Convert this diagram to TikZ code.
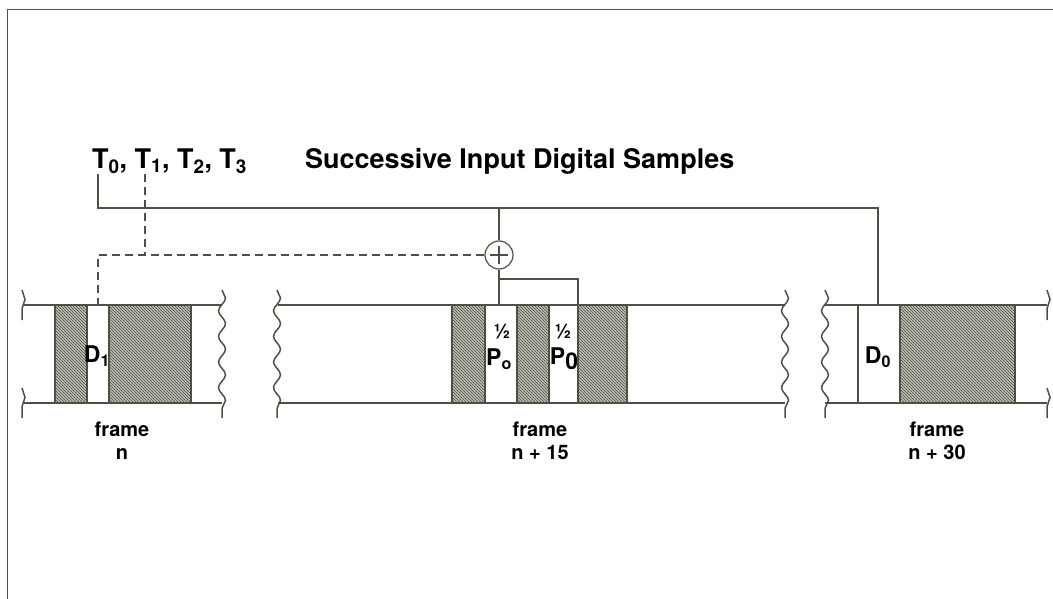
\documentclass[tikz,border=0pt]{standalone}
\usepackage{fontspec}
\setmainfont{TeX Gyre Heros}
\usetikzlibrary{positioning,patterns,decorations.pathmorphing}
\definecolor{inkgray}{RGB}{78,80,70}
\definecolor{hatchgray}{RGB}{190,190,180}

\tikzset{
 lbl/.style={font=\bfseries\fontsize{27}{30}\selectfont,inner sep=0pt},
 slotlbl/.style={font=\bfseries\fontsize{23}{26}\selectfont,inner sep=0pt},
 halflbl/.style={font=\bfseries\fontsize{20}{20}\selectfont,inner sep=0pt},
 framelbl/.style={font=\bfseries\fontsize{20}{23}\selectfont,align=center,inner sep=0pt},
 wire/.style={inkgray,line width=1.2pt},
 band/.style={inkgray,line width=1.5pt},
 hatch/.style={band,fill=hatchgray,postaction={pattern=north west lines,pattern color=inkgray}},
 wavy/.style={decorate,decoration={snake,amplitude=3.5pt,segment length=25.6pt}},
 curl/.style={decorate,decoration={snake,amplitude=3pt,segment length=30pt}},
 sumnode/.style={circle,draw=inkgray,line width=1.2pt,minimum size=28pt,inner sep=0pt}
}

\begin{document}
\begin{tikzpicture}[x=1pt,y=-1pt]
\useasboundingbox (0,0) rectangle (1053,599);
% page border
\draw[inkgray,line width=1pt] (7,599) -- (7,10) -- (1053,10);

% input samples
\node[lbl,anchor=base west] (t0) at (92,168) {T\textsubscript{0},};
\node[lbl,base right=7pt of t0] (t1) {T\textsubscript{1},};
\node[lbl,base right=7pt of t1] (t2) {T\textsubscript{2},};
\node[lbl,base right=7pt of t2] (t3) {T\textsubscript{3}};
\node[lbl,anchor=base west] (title) at (305,168) {Successive Input Digital Samples};

% frames
\foreach \a/\b in {23/222,278/785,825/1047}
  \draw[band] (\a,305) -- (\b,305) (\a,403) -- (\b,403);
\foreach \a/\b in {55/87,109/191,452/485,517/549,578/627,900/1015}
  \draw[hatch] (\a,305) rectangle (\b,403);
\draw[band] (858,305) -- (858,403);
\foreach \x in {222,277,785,825}
  \draw[band,wavy] (\x,290) -- (\x,418);
\foreach \x in {22,1047}
  \foreach \y in {305,403}
    \draw[band,curl] (\x,\y-15) -- (\x,\y+15);

% slot labels
\node[slotlbl] (d1) at (97,356) {D\textsubscript{1}};
\node[halflbl] (h0) at (502,332) {½};
\node[slotlbl] (p0) at (499,359) {P\textsubscript{o}};
\node[halflbl] (h1) at (563,332) {½};
\node[slotlbl] (p1) at (564,359) {P\raisebox{-5pt}{0}};
\node[slotlbl] (d0) at (878,357) {D\textsubscript{0}};

\node[framelbl] (fn) at (122,441) {frame\\n};
\node[framelbl] (fn15) at (540,441) {frame\\n + 15};
\node[framelbl] (fn30) at (937,441) {frame\\n + 30};

% adder and wiring
\node[sumnode] (sum) at (499,255) {};
\draw[wire] ([xshift=-9pt]sum.center) -- ([xshift=9pt]sum.center)
  ([yshift=-9pt]sum.center) -- ([yshift=9pt]sum.center);

\coordinate (t0foot) at (98,174);
\coordinate (t1foot) at (145,174);
\coordinate (bus) at (98,208);
\coordinate (tap) at (499,279);
\coordinate (d1top) at (98,305);
\coordinate (p0top) at (499,305);
\coordinate (p1top) at (578,305);
\coordinate (d0top) at (878,305);

\draw[wire] (t0foot) -- (bus) -| (d0top);
\draw[wire] (sum.north) -- (sum.north |- bus);
\draw[wire] (sum.south) -- (p0top);
\draw[wire] (tap) -| (p1top);
\draw[wire,dashed,dash pattern=on 8pt off 5pt] (t1foot) -- (t1foot |- sum.west);
\draw[wire,dashed,dash pattern=on 8pt off 5pt] (sum.west) -| (d1top);
\end{tikzpicture}
\end{document}
